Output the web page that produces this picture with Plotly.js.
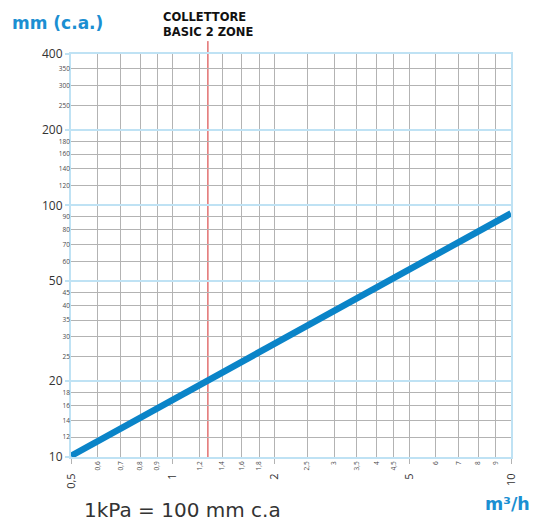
<!DOCTYPE html>
<html>
<head>
<meta charset="utf-8">
<script src="https://cdn.plot.ly/plotly-3.0.1.min.js"></script>
<style>html,body{margin:0;padding:0;background:#fff;}#chart{width:535px;height:524px;}</style>
</head>
<body>
<div id="chart"></div>
<script>
// ---- data ----
var flowRange = [0.5, 10];            // m3/h
var pressureRange = [10, 400];        // mm c.a.
var lineFlow = [0.5, 10];             // m3/h
var linePressure = [10.1, 93];        // mm c.a.
var markerFlow = 1.27;                // COLLETTORE BASIC 2 ZONE
var xMinorVals = [0.6,0.7,0.8,0.9,1.2,1.4,1.6,1.8,2.5,3,3.5,4,4.5,6,7,8,9];
var xMinorText = ['0,6','0,7','0,8','0,9','1,2','1,4','1,6','1,8','2,5','3','3,5','4','4,5','6','7','8','9'];
var xMajorVals = [0.5,1,2,5,10];
var xMajorText = ['0,5','1','2','5','10'];
var yMinorVals = [12,14,16,18,25,30,35,40,45,60,70,80,90,120,140,160,180,250,300,350];
var yMajorVals = [10,20,50,100,200,400];

var BLUE = '#0a84c8', LIGHT = '#bfe2f4', GRID = '#b3b3b3', TXT = '#4a4a4a';
var xr = [Math.log10(flowRange[0]), Math.log10(flowRange[1])];
var yr = [Math.log10(pressureRange[0]), Math.log10(pressureRange[1])];
var FONT = 'Open Sans, Lato, sans-serif';
var WIDE = 'DejaVu Sans, sans-serif';

var traces = [
  {x: flowRange, y: pressureRange, type: 'scatter', mode: 'markers', marker: {opacity: 0},
   xaxis: 'x2', yaxis: 'y2', hoverinfo: 'skip'},
  {x: lineFlow, y: linePressure, type: 'scatter', mode: 'lines',
   line: {color: BLUE, width: 6.5}, xaxis: 'x', yaxis: 'y', hoverinfo: 'skip'}
];

var layout = {
  width: 535, height: 524,
  margin: {l: 71, r: 24, t: 54, b: 67},
  paper_bgcolor: '#fff', plot_bgcolor: '#fff',
  showlegend: false,
  font: {family: FONT, color: TXT},
  xaxis: {
    type: 'log', range: xr, tickmode: 'array', tickvals: xMinorVals, ticktext: xMinorText,
    tickangle: -90, tickfont: {size: 6.5, color: TXT}, ticks: '', ticklabelstandoff: 2,
    showgrid: true, gridcolor: GRID, gridwidth: 1, zeroline: false, showline: false
  },
  xaxis2: {
    type: 'log', range: xr, overlaying: 'x', anchor: 'y2', side: 'bottom',
    tickmode: 'array', tickvals: xMajorVals, ticktext: xMajorText,
    tickangle: -90, tickfont: {size: 11, color: '#333'}, ticks: 'outside', ticklen: 5,
    tickcolor: GRID, tickwidth: 1, ticklabelstandoff: 5,
    showgrid: true, gridcolor: GRID, gridwidth: 1, zeroline: false,
    showline: true, linecolor: LIGHT, linewidth: 2, mirror: true
  },
  yaxis: {
    type: 'log', range: yr, tickmode: 'array', tickvals: yMinorVals,
    ticktext: yMinorVals.map(String), tickfont: {size: 6.5, color: TXT}, ticks: '',
    showgrid: true, gridcolor: GRID, gridwidth: 1, zeroline: false, showline: false
  },
  yaxis2: {
    type: 'log', range: yr, overlaying: 'y', anchor: 'x2', side: 'left',
    tickmode: 'array', tickvals: yMajorVals, ticktext: yMajorVals.map(String),
    tickfont: {size: 12, color: '#333'}, ticks: 'outside', ticklen: 4, tickcolor: LIGHT, tickwidth: 2,
    showgrid: true, gridcolor: LIGHT, gridwidth: 2, zeroline: false,
    showline: true, linecolor: LIGHT, linewidth: 2, mirror: true
  },
  shapes: [{
    type: 'line', xref: 'x', yref: 'paper', x0: markerFlow, x1: markerFlow, y0: 0, y1: 1.032,
    line: {color: '#d42a2a', width: 1}, layer: 'below'
  }],
  annotations: [
    {text: '<b>mm (c.a.)</b>', xref: 'paper', yref: 'paper', x: -0.139, y: 1.077,
     xanchor: 'left', yanchor: 'middle', showarrow: false, font: {size: 17, color: '#1b8fd2', family: WIDE}},
    {text: '<b>COLLETTORE<br>BASIC 2 ZONE</b>', xref: 'paper', yref: 'paper', x: 0.205, y: 1.072,
     xanchor: 'left', yanchor: 'middle', align: 'left', showarrow: false,
     font: {size: 11.5, color: '#111', family: WIDE}},
    {text: '<b>m³/h</b>', xref: 'paper', yref: 'paper', x: 1.0478, y: -0.117,
     xanchor: 'right', yanchor: 'middle', showarrow: false, font: {size: 17.5, color: '#1b8fd2', family: WIDE}},
    {text: '1kPa = 100 mm c.a', xref: 'paper', yref: 'paper', x: 0.024, y: -0.1663,
     xanchor: 'left', yanchor: 'bottom', showarrow: false, font: {size: 20, color: '#333', family: WIDE}}
  ]
};

Plotly.newPlot('chart', traces, layout, {displayModeBar: false, staticPlot: true});
</script>
</body>
</html>
